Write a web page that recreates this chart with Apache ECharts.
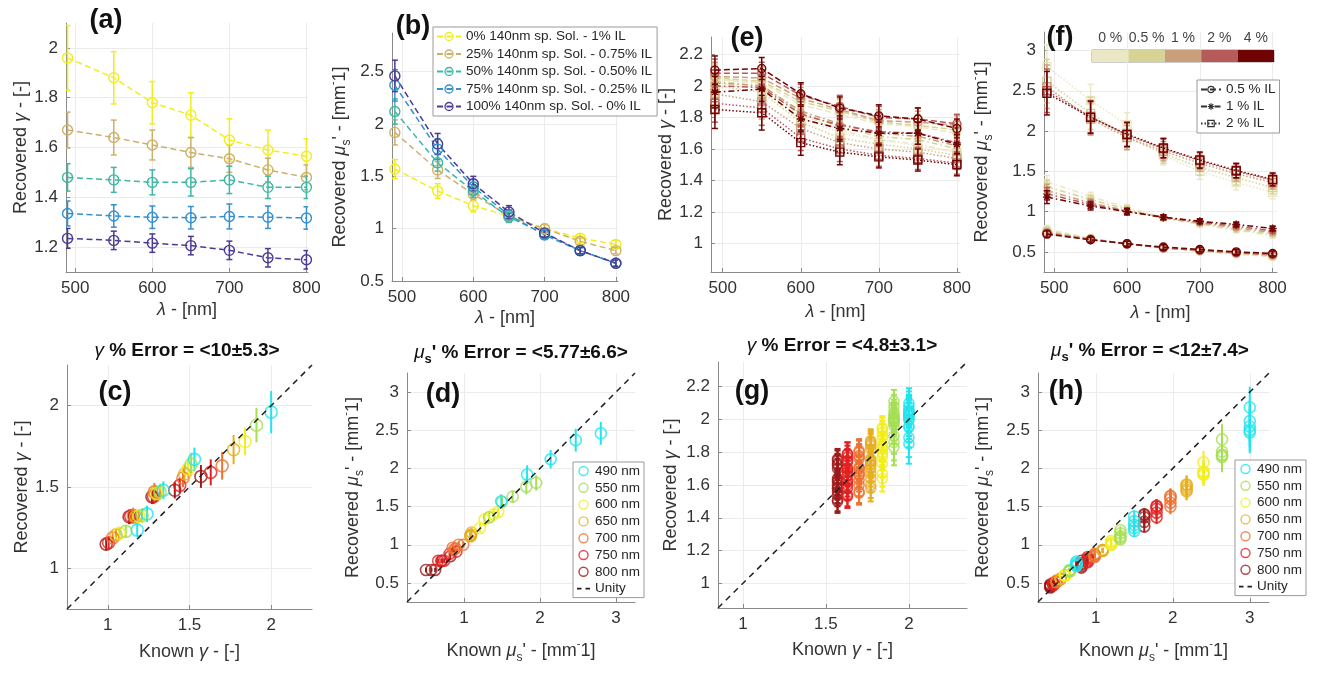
<!DOCTYPE html>
<html><head><meta charset="utf-8">
<script src="https://cdn.jsdelivr.net/npm/echarts@6/dist/echarts.min.js"></script>
<style>html,body{margin:0;padding:0;background:#fff}#c{width:1321px;height:673px}</style>
</head><body><div id="c"></div>
<script>
// ---------------- DATA ----------------
const lambda = [490, 550, 600, 650, 700, 750, 800];
const wlNames = ['490 nm', '550 nm', '600 nm', '650 nm', '700 nm', '750 nm', '800 nm'];
const sampleNames = ['0% 140nm sp. Sol. - 1% IL', '25% 140nm sp. Sol. - 0.75% IL', '50% 140nm sp. Sol. - 0.50% IL', '75% 140nm sp. Sol. - 0.25% IL', '100% 140nm sp. Sol. - 0% IL'];
const concLabels = ['0 %', '0.5 %', '1 %', '2 %', '4 %'];
const ilNames = ['0.5 % IL', '1 % IL', '2 % IL'];

// (a) recovered gamma per sample
const gammaA_0 = [1.96, 1.88, 1.78, 1.73, 1.63, 1.59, 1.565];
const gammaA_25 = [1.67, 1.64, 1.61, 1.58, 1.555, 1.51, 1.48];
const gammaA_50 = [1.48, 1.47, 1.46, 1.46, 1.47, 1.44, 1.44];
const gammaA_75 = [1.335, 1.325, 1.32, 1.318, 1.323, 1.32, 1.317];
const gammaA_100 = [1.235, 1.227, 1.216, 1.206, 1.187, 1.157, 1.149];
const gammaErrA_0 = [0.13, 0.105, 0.085, 0.09, 0.085, 0.08, 0.07];
const gammaErrA_25 = [0.072, 0.07, 0.06, 0.06, 0.055, 0.047, 0.05];
const gammaErrA_50 = [0.055, 0.05, 0.05, 0.055, 0.055, 0.045, 0.045];
const gammaErrA_75 = [0.05, 0.045, 0.045, 0.045, 0.05, 0.045, 0.045];
const gammaErrA_100 = [0.04, 0.037, 0.037, 0.037, 0.037, 0.037, 0.037];

// (b) recovered mus' per sample
const musB_0 = [1.57, 1.36, 1.22, 1.12, 1.00, 0.91, 0.85];
const musB_25 = [1.92, 1.56, 1.33, 1.12, 1.00, 0.88, 0.79];
const musB_50 = [2.12, 1.63, 1.36, 1.11, 0.95, 0.79, 0.67];
const musB_75 = [2.37, 1.76, 1.40, 1.13, 0.94, 0.79, 0.67];
const musB_100 = [2.46, 1.81, 1.43, 1.16, 0.96, 0.79, 0.67];
const musErrB_0 = [0.09, 0.07, 0.06, 0.05, 0.04, 0.04, 0.04];
const musErrB_25 = [0.12, 0.08, 0.06, 0.05, 0.04, 0.03, 0.03];
const musErrB_50 = [0.12, 0.08, 0.06, 0.05, 0.04, 0.03, 0.03];
const musErrB_75 = [0.15, 0.10, 0.07, 0.05, 0.04, 0.03, 0.03];
const musErrB_100 = [0.15, 0.10, 0.07, 0.06, 0.04, 0.03, 0.03];

// (c) known gamma per sample
const knownGamma_0 = [2.00, 1.91, 1.84, 1.77, 1.70, 1.63, 1.57];
const knownGamma_25 = [1.53, 1.51, 1.49, 1.47, 1.46, 1.44, 1.41];
const knownGamma_50 = [1.34, 1.32, 1.30, 1.29, 1.285, 1.28, 1.27];
const knownGamma_75 = [1.24, 1.21, 1.19, 1.17, 1.155, 1.14, 1.13];
const knownGamma_100 = [1.18, 1.11, 1.07, 1.05, 1.03, 1.005, 0.99];

// (d) known mus' per sample
const knownMus_0 = [1.49, 1.33, 1.21, 1.09, 0.99, 0.90, 0.82];
const knownMus_25 = [1.83, 1.50, 1.27, 1.08, 0.93, 0.81, 0.71];
const knownMus_50 = [2.14, 1.64, 1.33, 1.09, 0.89, 0.74, 0.62];
const knownMus_75 = [2.47, 1.82, 1.39, 1.09, 0.87, 0.70, 0.57];
const knownMus_100 = [2.80, 1.95, 1.45, 1.10, 0.85, 0.66, 0.50];

// (e) recovered gamma, IL level x absorber concentration
const gammaE_IL05_c0 = [2.04, 2.02, 1.88, 1.82, 1.76, 1.74, 1.70];
const gammaE_IL05_c05 = [2.05, 2.03, 1.90, 1.84, 1.77, 1.75, 1.72];
const gammaE_IL05_c1 = [2.06, 2.05, 1.92, 1.85, 1.78, 1.77, 1.75];
const gammaE_IL05_c2 = [2.08, 2.08, 1.94, 1.87, 1.80, 1.79, 1.76];
const gammaE_IL05_c4 = [2.10, 2.11, 1.95, 1.86, 1.81, 1.79, 1.73];
const gammaE_IL1_c0 = [2.05, 2.01, 1.82, 1.72, 1.66, 1.63, 1.58];
const gammaE_IL1_c05 = [2.03, 2.00, 1.83, 1.74, 1.68, 1.66, 1.60];
const gammaE_IL1_c1 = [2.02, 2.00, 1.84, 1.76, 1.70, 1.68, 1.62];
const gammaE_IL1_c2 = [2.00, 1.99, 1.82, 1.75, 1.71, 1.70, 1.64];
const gammaE_IL1_c4 = [1.96, 1.98, 1.79, 1.73, 1.70, 1.70, 1.63];
const gammaE_IL2_c0 = [2.02, 1.98, 1.80, 1.70, 1.66, 1.62, 1.58];
const gammaE_IL2_c05 = [2.00, 1.96, 1.77, 1.67, 1.63, 1.60, 1.56];
const gammaE_IL2_c1 = [1.95, 1.90, 1.73, 1.64, 1.60, 1.58, 1.54];
const gammaE_IL2_c2 = [1.89, 1.86, 1.67, 1.60, 1.56, 1.54, 1.51];
const gammaE_IL2_c4 = [1.85, 1.83, 1.64, 1.58, 1.55, 1.53, 1.50];
const gammaErrE_IL05 = [0.09, 0.07, 0.07, 0.07, 0.07, 0.07, 0.06];
const gammaErrE_IL1 = [0.10, 0.08, 0.08, 0.08, 0.07, 0.07, 0.06];
const gammaErrE_IL2 = [0.12, 0.11, 0.08, 0.08, 0.07, 0.07, 0.07];

// (f) recovered mus', IL level x absorber concentration
const musF_IL05_c0 = [0.78, 0.67, 0.60, 0.55, 0.51, 0.47, 0.44];
const musF_IL05_c05 = [0.76, 0.66, 0.60, 0.55, 0.51, 0.48, 0.45];
const musF_IL05_c1 = [0.74, 0.66, 0.60, 0.55, 0.52, 0.49, 0.46];
const musF_IL05_c2 = [0.73, 0.65, 0.60, 0.55, 0.52, 0.49, 0.47];
const musF_IL05_c4 = [0.72, 0.65, 0.60, 0.56, 0.53, 0.50, 0.48];
const musF_IL1_c0 = [1.37, 1.19, 1.05, 0.93, 0.84, 0.77, 0.70];
const musF_IL1_c05 = [1.31, 1.15, 1.03, 0.92, 0.85, 0.78, 0.72];
const musF_IL1_c1 = [1.26, 1.11, 1.01, 0.92, 0.86, 0.80, 0.74];
const musF_IL1_c2 = [1.22, 1.09, 1.00, 0.93, 0.87, 0.82, 0.76];
const musF_IL1_c4 = [1.18, 1.07, 1.00, 0.93, 0.88, 0.84, 0.79];
const musF_IL2_c0 = [2.80, 2.38, 2.08, 1.70, 1.50, 1.36, 1.24];
const musF_IL2_c05 = [2.62, 2.22, 1.92, 1.72, 1.55, 1.42, 1.30];
const musF_IL2_c1 = [2.55, 2.15, 1.92, 1.75, 1.60, 1.47, 1.36];
const musF_IL2_c2 = [2.50, 2.18, 1.95, 1.78, 1.63, 1.50, 1.39];
const musF_IL2_c4 = [2.47, 2.17, 1.96, 1.79, 1.64, 1.51, 1.40];
const musErrF_IL05 = [0.04, 0.03, 0.03, 0.03, 0.03, 0.03, 0.03];
const musErrF_IL1 = [0.08, 0.05, 0.04, 0.03, 0.03, 0.03, 0.03];
const musErrF_IL2 = [0.27, 0.20, 0.15, 0.12, 0.10, 0.09, 0.08];

// (g)/(h) known values for the IL phantoms
const knownGammaIL = [2.00, 1.91, 1.84, 1.77, 1.70, 1.63, 1.57];
const knownMusIL05 = [0.75, 0.66, 0.60, 0.545, 0.49, 0.45, 0.41];
const knownMusIL1 = [1.50, 1.32, 1.20, 1.09, 0.985, 0.895, 0.815];
const knownMusIL2 = [3.00, 2.64, 2.40, 2.18, 1.97, 1.79, 1.63];
const colorbarCells = [1, 1, 1, 1, 1];

// ---------------- STYLE ----------------
const FONT = '"Liberation Sans", Arial, Helvetica, sans-serif';
const sampleColors = ['#f1ed1f', '#cdb06a', '#3eb7a3', '#3490cf', '#4a3c95'];
const wlColors = ['#1fe5ee', '#a5df52', '#f2ee1b', '#e6ae22', '#eb7332', '#e32020', '#9e1a1a'];
const concColors = ['#ebe7c5', '#d7d395', '#c9a07b', '#b75a5a', '#700303'];
const ilDash = [[6, 3], [6, 3, 1.5, 3], [1.5, 2]];
const ilSymbol = ['circle', 'path://M0,5L10,5M5,0L5,10M1.5,1.5L8.5,8.5M1.5,8.5L8.5,1.5', 'rect'];
const TRANSP = 'rgba(255,255,255,0)';

const gammaASets = [gammaA_0, gammaA_25, gammaA_50, gammaA_75, gammaA_100];
const gammaErrASets = [gammaErrA_0, gammaErrA_25, gammaErrA_50, gammaErrA_75, gammaErrA_100];
const musBSets = [musB_0, musB_25, musB_50, musB_75, musB_100];
const musErrBSets = [musErrB_0, musErrB_25, musErrB_50, musErrB_75, musErrB_100];
const knownGammaSets = [knownGamma_0, knownGamma_25, knownGamma_50, knownGamma_75, knownGamma_100];
const knownMusSets = [knownMus_0, knownMus_25, knownMus_50, knownMus_75, knownMus_100];
const gammaESets = [
  [gammaE_IL05_c0, gammaE_IL05_c05, gammaE_IL05_c1, gammaE_IL05_c2, gammaE_IL05_c4],
  [gammaE_IL1_c0, gammaE_IL1_c05, gammaE_IL1_c1, gammaE_IL1_c2, gammaE_IL1_c4],
  [gammaE_IL2_c0, gammaE_IL2_c05, gammaE_IL2_c1, gammaE_IL2_c2, gammaE_IL2_c4]];
const gammaErrESets = [gammaErrE_IL05, gammaErrE_IL1, gammaErrE_IL2];
const musFSets = [
  [musF_IL05_c0, musF_IL05_c05, musF_IL05_c1, musF_IL05_c2, musF_IL05_c4],
  [musF_IL1_c0, musF_IL1_c05, musF_IL1_c1, musF_IL1_c2, musF_IL1_c4],
  [musF_IL2_c0, musF_IL2_c05, musF_IL2_c1, musF_IL2_c2, musF_IL2_c4]];
const musErrFSets = [musErrF_IL05, musErrF_IL1, musErrF_IL2];
const knownMusILSets = [knownMusIL05, knownMusIL1, knownMusIL2];

// ---------------- HELPERS ----------------
function errSeries(g, pts, errs, color, lw, cap, z) {
  return {
    type: 'custom', xAxisIndex: g, yAxisIndex: g, silent: true, clip: true, z: z || 2,
    data: pts.map((p, i) => [p[0], p[1], errs[i]]),
    encode: { x: 0, y: 1 },
    renderItem: function (params, api) {
      const x = api.value(0), y = api.value(1), e = api.value(2);
      const p1 = api.coord([x, y - e]), p2 = api.coord([x, y + e]);
      const st = { stroke: color, lineWidth: lw, fill: null };
      return { type: 'group', children: [
        { type: 'line', shape: { x1: p1[0], y1: p1[1], x2: p2[0], y2: p2[1] }, style: st },
        { type: 'line', shape: { x1: p1[0] - cap, y1: p1[1], x2: p1[0] + cap, y2: p1[1] }, style: st },
        { type: 'line', shape: { x1: p2[0] - cap, y1: p2[1], x2: p2[0] + cap, y2: p2[1] }, style: st }
      ] };
    }
  };
}
function lineSeries(g, name, xs, ys, color, dash, symbol, size, lw, z) {
  return {
    type: 'line', name: name, xAxisIndex: g, yAxisIndex: g, silent: true, z: z || 3,
    data: xs.map((x, i) => [x, ys[i]]),
    lineStyle: { color: color, width: lw, type: dash },
    itemStyle: { color: TRANSP, borderColor: color, borderWidth: 1.4 },
    symbol: symbol, symbolSize: size, showSymbol: true, showAllSymbol: true
  };
}
function scatterSeries(g, name, pts, color, size, z) {
  return {
    type: 'scatter', name: name, xAxisIndex: g, yAxisIndex: g, silent: true, z: z || 3,
    data: pts, symbol: 'circle', symbolSize: size,
    itemStyle: { color: TRANSP, borderColor: color, borderWidth: 1.6 }
  };
}
const richBase = {
  n: { fontSize: 18, fontFamily: FONT, color: '#333', lineHeight: 26, verticalAlign: 'middle' },
  i: { fontSize: 18, fontFamily: FONT, color: '#333', fontStyle: 'italic', lineHeight: 26, verticalAlign: 'middle' },
  s: { fontSize: 12, fontFamily: FONT, color: '#333', lineHeight: 12, verticalAlign: 'bottom' },
  p: { fontSize: 11, fontFamily: FONT, color: '#333', lineHeight: 11, verticalAlign: 'top' }
};
const NAME_GAMMA_REC = '{n|Recovered }{i|γ}{n| - [-]}';
const NAME_MUS_REC = "{n|Recovered }{i|μ}{s|s}{n|' - [mm}{p|-}{n|1]}";
const NAME_LAMBDA = '{i|λ}{n| - [nm]}';
const NAME_GAMMA_KNOWN = '{n|Known }{i|γ}{n| - [-]}';
const NAME_MUS_KNOWN = "{n|Known }{i|μ}{s|s}{n|' - [mm}{p|-}{n|1]}";

function axis(g, min, max, split, name, gap, showMin) {
  return {
    type: 'value', gridIndex: g, min: min, max: max, splitNumber: split,
    name: name, nameLocation: 'middle', nameGap: gap,
    nameTextStyle: { rich: richBase, fontSize: 18, fontFamily: FONT, color: '#333' },
    axisLine: { show: true, onZero: false, lineStyle: { color: '#8a8a8a', width: 1 } },
    axisTick: { show: true, inside: true, length: 4, lineStyle: { color: '#8a8a8a' } },
    axisLabel: { color: '#333', fontSize: 17, fontFamily: FONT, margin: 8, showMinLabel: !!showMin, showMaxLabel: false },
    splitLine: { show: true, showMinLine: false, showMaxLine: false, lineStyle: { color: '#ebebeb', width: 1 } }
  };
}

// ---------------- LAYOUT ----------------
const grids = [
  { left: 66, top: 23, width: 242, height: 249 },    // (a)
  { left: 392, top: 33, width: 226, height: 248 },   // (b)
  { left: 711, top: 37, width: 249, height: 235 },   // (e)
  { left: 1044, top: 32, width: 233, height: 240 },  // (f)
  { left: 67, top: 365, width: 245, height: 244 },   // (c)
  { left: 407, top: 373, width: 228, height: 229 },  // (d)
  { left: 718, top: 362, width: 249, height: 246 },  // (g)
  { left: 1038, top: 373, width: 231, height: 229 }, // (h)
  { left: 1092, top: 50, width: 182, height: 12, show: true, borderColor: '#9a9a9a', borderWidth: 1 } // colorbar
];
const rangeC = [0.75, 2.25], rangeD = [0.25, 3.25], rangeG = [0.85, 2.35], rangeH = [0.25, 3.25];

const xAxes = [
  axis(0, 488, 802, 3, NAME_LAMBDA, 25),
  axis(1, 486, 803, 3, NAME_LAMBDA, 24),
  axis(2, 485, 804, 3, NAME_LAMBDA, 27),
  axis(3, 486, 806, 3, NAME_LAMBDA, 28),
  axis(4, rangeC[0], rangeC[1], 3, NAME_GAMMA_KNOWN, 30),
  axis(5, rangeD[0], rangeD[1], 3, NAME_MUS_KNOWN, 36),
  axis(6, rangeG[0], rangeG[1], 3, NAME_GAMMA_KNOWN, 29),
  axis(7, rangeH[0], rangeH[1], 3, NAME_MUS_KNOWN, 36),
  { type: 'category', gridIndex: 8, data: concLabels, position: 'top', boundaryGap: true,
    axisLine: { show: false }, axisTick: { show: false }, splitLine: { show: false },
    axisLabel: { interval: 0, hideOverlap: false, fontSize: 14, color: '#444', fontFamily: FONT, margin: 5 } }
];
const yAxes = [
  axis(0, 1.1, 2.1, 5, NAME_GAMMA_REC, 31),
  axis(1, 0.5, 2.87, 5, NAME_MUS_REC, 39, true),
  axis(2, 0.82, 2.31, 7, NAME_GAMMA_REC, 28),
  axis(3, 0.25, 3.23, 5, NAME_MUS_REC, 49),
  axis(4, rangeC[0], rangeC[1], 3, NAME_GAMMA_REC, 30),
  axis(5, rangeD[0], rangeD[1], 6, NAME_MUS_REC, 41),
  axis(6, rangeG[0], rangeG[1], 7, NAME_GAMMA_REC, 34),
  axis(7, rangeH[0], rangeH[1], 6, NAME_MUS_REC, 42),
  { type: 'value', gridIndex: 8, min: 0, max: 1, show: false }
];

// ---------------- SERIES ----------------
const series = [];
// (a) and (b)
for (let s = 0; s < 5; s++) {
  const pa = lambda.map((x, i) => [x, gammaASets[s][i]]);
  series.push(errSeries(0, pa, gammaErrASets[s], sampleColors[s], 1.5, 3, 2));
  series.push(lineSeries(0, 'a' + s, lambda, gammaASets[s], sampleColors[s], [6, 3.5], 'circle', 10, 1.5, 3));
  const pb = lambda.map((x, i) => [x, musBSets[s][i]]);
  series.push(errSeries(1, pb, musErrBSets[s], sampleColors[s], 1.5, 3, 2));
  series.push(lineSeries(1, sampleNames[s], lambda, musBSets[s], sampleColors[s], [6, 3.5], 'circle', 10, 1.5, 3));
}
// (e) and (f)
for (let c = 0; c < 5; c++) {
  for (let k = 0; k < 3; k++) {
    const col = concColors[c];
    const z = 3 + c;
    const pe = lambda.map((x, i) => [x, gammaESets[k][c][i]]);
    series.push(errSeries(2, pe, gammaErrESets[k], col, 1.5, 3, z));
    series.push(lineSeries(2, 'e' + k + c, lambda, gammaESets[k][c], col, ilDash[k], ilSymbol[k], 8, 1.5, z));
    const pf = lambda.map((x, i) => [x, musFSets[k][c][i]]);
    series.push(errSeries(3, pf, musErrFSets[k], col, 1.5, 3, z));
    series.push(lineSeries(3, 'f' + k + c, lambda, musFSets[k][c], col, ilDash[k], ilSymbol[k], 8, 1.5, z));
  }
}
// (f) legend entries (line style per IL level)
for (let k = 0; k < 3; k++) {
  series.push({ type: 'line', name: ilNames[k], xAxisIndex: 3, yAxisIndex: 3, data: [],
    lineStyle: { color: '#333', width: 1.3, type: ilDash[k] }, symbol: ilSymbol[k], symbolSize: 6,
    itemStyle: { color: TRANSP, borderColor: '#333', borderWidth: 1.2 } });
}
// (c), (d), (g), (h)
for (let w = 6; w >= 0; w--) {
  const pc = gammaASets.map((arr, s) => [knownGammaSets[s][w], arr[w]]);
  series.push(errSeries(4, pc, gammaErrASets.map(e => e[w]), wlColors[w], 2, 0, 2));
  series.push(scatterSeries(4, 'c' + w, pc, wlColors[w], 12, 3));
  const pd = musBSets.map((arr, s) => [knownMusSets[s][w], arr[w]]);
  series.push(errSeries(5, pd, musErrBSets.map(e => e[w]), wlColors[w], 2, 0, 2));
  series.push(scatterSeries(5, wlNames[w], pd, wlColors[w], 11, 3));
  const pg = [], eg = [], ph = [], eh = [];
  for (let k = 0; k < 3; k++) for (let c = 0; c < 5; c++) {
    pg.push([knownGammaIL[w], gammaESets[k][c][w]]); eg.push(gammaErrESets[k][w]);
    ph.push([knownMusILSets[k][w], musFSets[k][c][w]]); eh.push(musErrFSets[k][w]);
  }
  series.push(errSeries(6, pg, eg, wlColors[w], 2, 3, 2));
  series.push(scatterSeries(6, 'g' + w, pg, wlColors[w], 10, 3));
  series.push(errSeries(7, ph, eh, wlColors[w], 2, 0, 2));
  series.push(scatterSeries(7, wlNames[w] , ph, wlColors[w], 11, 3));
}
// unity lines
const unity = (g, r, name) => ({ type: 'line', name: name, xAxisIndex: g, yAxisIndex: g, silent: true, z: 6,
  data: [[r[0], r[0]], [r[1], r[1]]], symbol: 'none', itemStyle: { color: '#222' },
  lineStyle: { color: '#222', width: 1.5, type: [6, 5] } });
series.push(unity(4, rangeC, 'unityC'), unity(5, rangeD, 'Unity'), unity(6, rangeG, 'unityG'), unity(7, rangeH, 'Unity'));
// colorbar
series.push({ type: 'bar', xAxisIndex: 8, yAxisIndex: 8, silent: true, barWidth: '100%', barCategoryGap: '0%',
  data: colorbarCells.map((v, i) => ({ value: v, itemStyle: { color: concColors[i] } })) });

// ---------------- LEGENDS ----------------
const legendText = { fontSize: 13.5, color: '#262626', fontFamily: FONT, lineHeight: 15 };
const UNITY_ICON = 'path://M0,0h4v1.6h-4zM7.5,0h4v1.6h-4z';
const wlLegendData = wlNames.map(n => ({ name: n })).concat([{ name: 'Unity', icon: UNITY_ICON, itemStyle: { color: '#222', borderWidth: 0 } }]);
const legends = [
  { data: sampleNames, left: 433, top: 27, orient: 'vertical', padding: [2, 5, 2, 3], itemGap: 2.5,
    itemWidth: 24, itemHeight: 10, backgroundColor: '#fff', borderColor: '#9a9a9a', borderWidth: 1,
    textStyle: legendText, selectedMode: false, itemStyle: { borderWidth: 1.3 } },
  { data: wlLegendData, left: 573, top: 462, orient: 'vertical', padding: [2, 4, 2, 4], itemGap: 2.8,
    itemWidth: 13, itemHeight: 9, backgroundColor: '#fff', borderColor: '#9a9a9a', borderWidth: 1,
    textStyle: { fontSize: 13.5, color: '#262626', fontFamily: FONT, lineHeight: 14 }, selectedMode: false, itemStyle: { borderWidth: 1.4 } },
  { data: wlLegendData, left: 1235, top: 460, orient: 'vertical', padding: [2, 4, 2, 4], itemGap: 2.8,
    itemWidth: 13, itemHeight: 9, backgroundColor: '#fff', borderColor: '#9a9a9a', borderWidth: 1,
    textStyle: { fontSize: 13.5, color: '#262626', fontFamily: FONT, lineHeight: 14 }, selectedMode: false, itemStyle: { borderWidth: 1.4 } },
  { data: ilNames, left: 1197, top: 80, orient: 'vertical', padding: [2, 4, 2, 3], itemGap: 2,
    itemWidth: 20, itemHeight: 8, backgroundColor: '#fff', borderColor: '#9a9a9a', borderWidth: 1,
    textStyle: legendText, selectedMode: false, itemStyle: { borderWidth: 1.2 } }
];

// ---------------- TEXT ----------------
const lbl = (t, x, y) => ({ type: 'text', x: x, y: y, z: 100, style: { text: t, font: 'bold 27px ' + FONT, fill: '#111', align: 'center', verticalAlign: 'middle' } });
const titleRich = {
  b: { fontSize: 19, fontWeight: 'bold', fontFamily: FONT, fill: '#111', color: '#111', lineHeight: 26, verticalAlign: 'middle' },
  g: { fontSize: 19, fontStyle: 'italic', fontFamily: FONT, fill: '#111', color: '#111', lineHeight: 26, verticalAlign: 'middle' },
  s: { fontSize: 13, fontWeight: 'bold', fontFamily: FONT, fill: '#111', color: '#111', lineHeight: 13, verticalAlign: 'bottom' }
};
const ttl = (t, x, y) => ({ type: 'text', x: x, y: y, z: 100, style: { text: t, rich: titleRich, align: 'center', verticalAlign: 'middle' } });
const graphic = [
  lbl('(a)', 106, 21), lbl('(b)', 413, 27), lbl('(e)', 747, 39), lbl('(f)', 1060, 38),
  lbl('(c)', 115, 393), lbl('(d)', 443, 395), lbl('(g)', 752, 392), lbl('(h)', 1066, 392),
  ttl('{g|γ}{b| % Error = <10±5.3>}', 187, 351),
  ttl("{g|μ}{s|s}{b|' % Error = <5.77±6.6>}", 521, 353),
  ttl('{g|γ}{b| % Error = <4.8±3.1>}', 842, 346),
  ttl("{g|μ}{s|s}{b|' % Error = <12±7.4>}", 1150, 351)
];

const chart = echarts.init(document.getElementById('c'), null, { renderer: 'canvas', width: 1321, height: 673 });
chart.setOption({
  animation: false, backgroundColor: '#fff',
  textStyle: { fontFamily: FONT },
  grid: grids, xAxis: xAxes, yAxis: yAxes, legend: legends, series: series, graphic: graphic
});
</script></body></html>
